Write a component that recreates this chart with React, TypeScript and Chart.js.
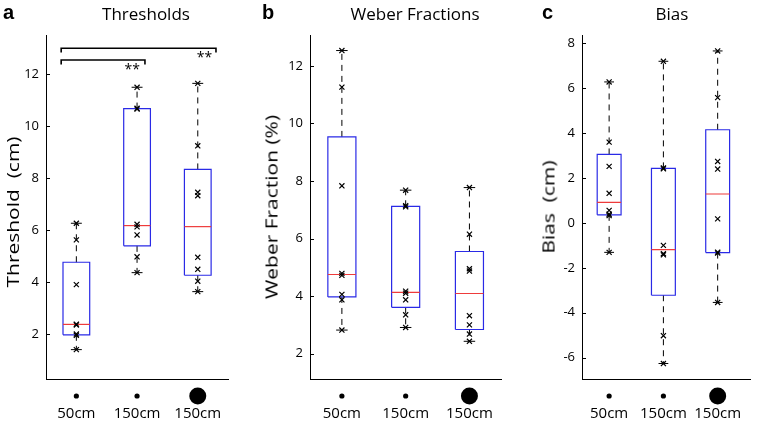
import React, { useEffect, useRef } from 'react';
import { Chart, registerables } from 'chart.js';
Chart.register(...registerables);

// ---------- data ----------
const categories = ['50cm', '150cm', '150cm'];

const thresholdPoints = [
  [6.26, 5.62, 3.9, 2.38, 2.35, 2.0, 1.95, 1.4],
  [11.49, 10.68, 10.65, 6.22, 6.12, 5.81, 4.97, 4.36],
  [11.64, 9.24, 7.45, 7.32, 4.95, 4.49, 4.03, 3.63],
];
const thresholdQ1 = [1.97, 5.39, 4.26];
const thresholdMedian = [2.37, 6.17, 6.13];
const thresholdQ3 = [4.76, 10.67, 8.33];
const thresholdMin = [1.4, 4.36, 3.63];
const thresholdMax = [6.26, 11.49, 11.64];
const thresholdTicks = [2, 4, 6, 8, 10, 12];

const weberPoints = [
  [12.53, 11.26, 7.83, 4.79, 4.72, 4.06, 3.87, 2.82],
  [7.68, 7.14, 7.1, 4.17, 4.1, 3.87, 3.35, 2.91],
  [7.77, 6.15, 4.95, 4.87, 3.32, 3.0, 2.68, 2.43],
];
const weberQ1 = [3.97, 3.61, 2.84];
const weberMedian = [4.75, 4.13, 4.09];
const weberQ3 = [9.53, 7.12, 5.55];
const weberMin = [2.82, 2.91, 2.43];
const weberMax = [12.53, 7.68, 7.77];
const weberTicks = [2, 4, 6, 8, 10, 12];

const biasPoints = [
  [6.28, 3.6, 2.52, 1.32, 0.56, 0.39, 0.33, -1.31],
  [7.2, 2.45, 2.41, -1.0, -1.37, -1.42, -5.02, -6.26],
  [7.66, 5.58, 2.74, 2.4, 0.18, -1.3, -1.34, -3.54],
];
const biasQ1 = [0.36, -3.22, -1.32];
const biasMedian = [0.92, -1.19, 1.29];
const biasQ3 = [3.05, 2.43, 4.15];
const biasMin = [-1.31, -6.26, -3.54];
const biasMax = [6.28, 7.2, 7.66];
const biasTicks = [-6, -4, -2, 0, 2, 4, 6, 8];

// significance brackets (panel a): [xStart, xEnd, yTop, yDrop]
const sigShort = [0.75, 2.13, 12.54, 12.37];
const sigLong = [0.75, 3.3, 12.99, 12.83];
const sigLabels = [
  { text: '**', x: 1.92, y: 12.28 },
  { text: '**', x: 3.11, y: 12.74 },
];

// ---------- styles ----------
const FONT = "'Open Sans', 'DejaVu Sans', sans-serif";
const BLUE = '#2a2ae6';
const RED = '#ee3b3b';
const HALF_BOX = 0.22;
const HALF_CAP = 0.09;

Chart.defaults.font.family = FONT;
Chart.defaults.color = '#000';

function seg(data: { x: number; y: number }[], color: string, width = 1, dash: number[] = []) {
  return {
    type: 'scatter' as const,
    data,
    showLine: true,
    borderColor: color,
    backgroundColor: color,
    borderWidth: width,
    borderDash: dash,
    pointRadius: 0,
    pointHoverRadius: 0,
    fill: false,
  };
}

function boxDatasets(points: number[][], q1: number[], med: number[], q3: number[], lo: number[], hi: number[]) {
  const ds: any[] = [];
  ds.push({
    type: 'scatter',
    data: points.flatMap((arr, i) => arr.map((v) => ({ x: i + 1, y: v }))),
    pointStyle: 'crossRot',
    pointRadius: 3.6,
    pointHoverRadius: 3.6,
    borderColor: '#000',
    backgroundColor: '#000',
    borderWidth: 1.2,
    showLine: false,
  });
  for (let i = 0; i < q1.length; i++) {
    const c = i + 1;
    ds.push(seg([{ x: c - HALF_BOX, y: med[i] }, { x: c + HALF_BOX, y: med[i] }], RED, 1.2));
    ds.push(seg([{ x: c - HALF_CAP, y: hi[i] }, { x: c + HALF_CAP, y: hi[i] }], '#000', 1));
    ds.push(seg([{ x: c - HALF_CAP, y: lo[i] }, { x: c + HALF_CAP, y: lo[i] }], '#000', 1));
    ds.push(
      seg(
        [
          { x: c - HALF_BOX, y: q1[i] },
          { x: c + HALF_BOX, y: q1[i] },
          { x: c + HALF_BOX, y: q3[i] },
          { x: c - HALF_BOX, y: q3[i] },
          { x: c - HALF_BOX, y: q1[i] },
        ],
        BLUE,
        1.2
      )
    );
    ds.push(seg([{ x: c, y: q3[i] }, { x: c, y: hi[i] }], '#000', 1, [6, 5]));
    ds.push(seg([{ x: c, y: q1[i] }, { x: c, y: lo[i] }], '#000', 1, [6, 5]));
  }
  return ds;
}

const decorPlugin = {
  id: 'decor',
  afterDraw(chart: any, _args: any, opts: any) {
    const { ctx, chartArea } = chart;
    const x = chart.scales.x;
    const y = chart.scales.y;
    ctx.save();
    ctx.strokeStyle = '#000';
    ctx.lineWidth = 1;
    y.ticks.forEach((t: any) => {
      const py = Math.round(y.getPixelForValue(t.value)) + 0.5;
      ctx.beginPath();
      ctx.moveTo(chartArea.left, py);
      ctx.lineTo(chartArea.left + 4, py);
      ctx.stroke();
    });
    ctx.fillStyle = '#000';
    (opts.dots || []).forEach((r: number, i: number) => {
      ctx.beginPath();
      ctx.arc(x.getPixelForValue(i + 1), chartArea.bottom + 17, r, 0, Math.PI * 2);
      ctx.fill();
    });
    ctx.font = `14px ${FONT}`;
    ctx.textAlign = 'center';
    ctx.textBaseline = 'middle';
    (opts.notes || []).forEach((n: any) => {
      ctx.fillText(n.text, x.getPixelForValue(n.x), y.getPixelForValue(n.y) + 3);
    });
    ctx.restore();
  },
};

type PanelProps = {
  left: number;
  width: number;
  axisWidth: number;
  padRight: number;
  xMax: number;
  yMin: number;
  yMax: number;
  ticks: number[];
  datasets: any[];
  notes?: any[];
};

function Panel(p: PanelProps) {
  const ref = useRef<HTMLCanvasElement>(null);
  useEffect(() => {
    const chart = new Chart(ref.current!, {
      type: 'scatter',
      data: { datasets: p.datasets },
      plugins: [decorPlugin],
      options: {
        animation: false,
        responsive: false,
        events: [],
        layout: { padding: { left: 0, right: p.padRight, top: 35, bottom: 0 } },
        plugins: {
          legend: { display: false },
          tooltip: { enabled: false },
          decor: { dots: [2.6, 2.6, 8.5], notes: p.notes || [] },
        } as any,
        scales: {
          x: {
            type: 'linear',
            min: 0.5,
            max: p.xMax,
            grid: { display: false, drawTicks: false },
            border: { display: true, color: '#000', width: 1 },
            afterBuildTicks: (s: any) => {
              s.ticks = categories.map((_, i) => ({ value: i + 1 }));
            },
            afterFit: (s: any) => {
              s.height = 42;
            },
            ticks: {
              padding: 26,
              font: { size: 15 },
              color: '#000',
              callback: (v: any) => categories[Number(v) - 1] ?? '',
              maxRotation: 0,
              autoSkip: false,
            },
          },
          y: {
            type: 'linear',
            min: p.yMin,
            max: p.yMax,
            grid: { display: false, drawTicks: false },
            border: { display: true, color: '#000', width: 1 },
            afterBuildTicks: (s: any) => {
              s.ticks = p.ticks.map((v) => ({ value: v }));
            },
            afterFit: (s: any) => {
              s.width = p.axisWidth;
            },
            ticks: { padding: 7, font: { size: 13 }, color: '#000' },
          },
        },
      },
    } as any);
    return () => chart.destroy();
  }, []);
  return (
    <canvas
      ref={ref}
      width={p.width}
      height={421}
      style={{ position: 'absolute', left: p.left, top: 0, width: p.width, height: 421 }}
    />
  );
}

function Label({ text, x, y, size, bold, left }: { text: string; x: number; y: number; size: number; bold?: boolean; left?: boolean }) {
  return (
    <div
      style={{
        position: 'absolute',
        left: x,
        top: y,
        transform: left ? 'translate(0,-50%)' : 'translate(-50%,-50%)',
        fontFamily: bold ? "'Liberation Sans', Arial, sans-serif" : FONT,
        fontWeight: bold ? 700 : 400,
        fontSize: size,
        lineHeight: `${size}px`,
        whiteSpace: 'pre',
        color: '#000',
      }}
    >
      {text}
    </div>
  );
}

function VLabel({ text, x, y }: { text: string; x: number; y: number }) {
  return (
    <div
      style={{
        position: 'absolute',
        left: x,
        top: y,
        transform: 'translate(-50%,-50%) rotate(-90deg) scaleX(1.27)',
        fontFamily: FONT,
        fontSize: 16.5,
        lineHeight: '17px',
        whiteSpace: 'pre',
        color: '#000',
      }}
    >
      {text}
    </div>
  );
}

export default function App() {
  const sigDatasets = [
    seg(
      [
        { x: sigShort[0], y: sigShort[3] },
        { x: sigShort[0], y: sigShort[2] },
        { x: sigShort[1], y: sigShort[2] },
        { x: sigShort[1], y: sigShort[3] },
      ],
      '#000',
      1.6
    ),
    seg(
      [
        { x: sigLong[0], y: sigLong[3] },
        { x: sigLong[0], y: sigLong[2] },
        { x: sigLong[1], y: sigLong[2] },
        { x: sigLong[1], y: sigLong[3] },
      ],
      '#000',
      1.6
    ),
  ];
  return (
    <div style={{ position: 'fixed', left: 0, top: 0, width: 768, height: 421, background: '#fff', overflow: 'hidden' }}>
      <Panel
        left={0}
        width={250}
        axisWidth={46}
        padRight={17}
        xMax={3.5}
        yMin={0.27}
        yMax={13.5}
        ticks={thresholdTicks}
        datasets={[
          ...boxDatasets(thresholdPoints, thresholdQ1, thresholdMedian, thresholdQ3, thresholdMin, thresholdMax),
          ...sigDatasets,
        ]}
        notes={sigLabels}
      />
      <Panel
        left={250}
        width={270}
        axisWidth={60}
        padRight={7}
        xMax={3.5}
        yMin={1.12}
        yMax={13.07}
        ticks={weberTicks}
        datasets={boxDatasets(weberPoints, weberQ1, weberMedian, weberQ3, weberMin, weberMax)}
      />
      <Panel
        left={520}
        width={248}
        axisWidth={62}
        padRight={0}
        xMax={3.6}
        yMin={-6.95}
        yMax={8.37}
        ticks={biasTicks}
        datasets={boxDatasets(biasPoints, biasQ1, biasMedian, biasQ3, biasMin, biasMax)}
      />
      <VLabel text="Threshold  (cm)" x={12} y={212} />
      <VLabel text="Weber Fraction (%)" x={271} y={207} />
      <VLabel text="Bias  (cm)" x={548} y={207} />
      <Label text="a" x={3} y={12} size={20} bold left />
      <Label text="Thresholds" x={146} y={13} size={17} />
      <Label text="b" x={262} y={12} size={20} bold left />
      <Label text="Weber Fractions" x={415} y={13} size={17} />
      <Label text="c" x={542} y={12} size={20} bold left />
      <Label text="Bias" x={672} y={13} size={17} />
    </div>
  );
}
